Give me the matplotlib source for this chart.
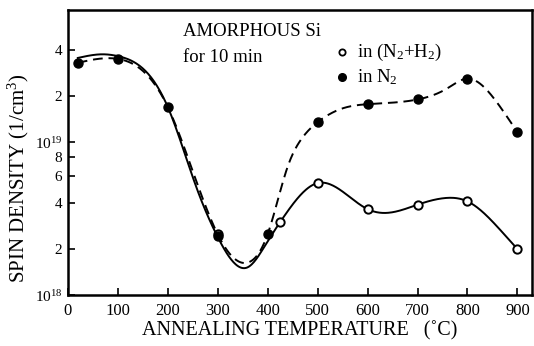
import matplotlib.pyplot as plt
import numpy as np
from matplotlib.ticker import FixedLocator, FixedFormatter, NullLocator

# measured points (temperature in C, spin density in 1/cm3)
temp_n2 = [20, 100, 200, 300, 400, 500, 600, 700, 800, 900]
spin_n2 = [3.3e19, 3.5e19, 1.7e19, 2.45e18, 2.5e18, 1.35e19, 1.77e19, 1.9e19, 2.6e19, 1.16e19]

temp_h2 = [300, 425, 500, 600, 700, 800, 900]
spin_h2 = [2.5e18, 3.0e18, 5.4e18, 3.65e18, 3.9e18, 4.1e18, 2.0e18]

# hand-drawn guide curves, knots
curve_n2_t = [20, 100, 200, 300, 362, 400, 440, 466, 500, 552, 600, 700, 760, 800, 860, 900]
curve_n2_v = [3.3e19, 3.5e19, 1.7e19, 2.5e18, 1.64e18, 2.5e18, 6.9e18, 1.03e19, 1.35e19,
              1.67e19, 1.77e19, 1.9e19, 2.25e19, 2.6e19, 1.8e19, 1.16e19]

curve_h2_t = [20, 70, 100, 200, 258, 300, 360, 400, 425, 500, 600, 640, 700, 752, 800, 866, 900]
curve_h2_v = [3.55e19, 3.75e19, 3.65e19, 1.7e19, 5.0e18, 2.4e18, 1.52e18, 2.25e18, 3.0e18,
              5.4e18, 3.65e18, 3.45e18, 3.9e18, 4.3e18, 4.1e18, 2.66e18, 2.0e18]


def natural_spline(xk, yk, xs):
    xk = np.asarray(xk, float)
    yk = np.asarray(yk, float)
    n = len(xk)
    h = np.diff(xk)
    A = np.zeros((n, n))
    b = np.zeros(n)
    A[0, 0] = A[-1, -1] = 1
    for i in range(1, n - 1):
        A[i, i - 1] = h[i - 1]
        A[i, i] = 2 * (h[i - 1] + h[i])
        A[i, i + 1] = h[i]
        b[i] = 3 * ((yk[i + 1] - yk[i]) / h[i] - (yk[i] - yk[i - 1]) / h[i - 1])
    c = np.linalg.solve(A, b)
    idx = np.clip(np.searchsorted(xk, xs) - 1, 0, n - 2)
    dx = xs - xk[idx]
    bb = (yk[idx + 1] - yk[idx]) / h[idx] - h[idx] * (2 * c[idx] + c[idx + 1]) / 3
    d = (c[idx + 1] - c[idx]) / (3 * h[idx])
    return yk[idx] + bb * dx + c[idx] * dx ** 2 + d * dx ** 3


plt.rcParams['font.family'] = ['Liberation Serif', 'DejaVu Serif']
plt.rcParams['mathtext.fontset'] = 'custom'
plt.rcParams['mathtext.rm'] = 'Liberation Serif'
plt.rcParams['mathtext.it'] = 'Liberation Serif:italic'
plt.rcParams['mathtext.bf'] = 'Liberation Serif:bold'

fig = plt.figure(figsize=(5.34, 3.46), dpi=100)
ax = fig.add_axes([0.127, 0.147, 0.870, 0.824])

xs = np.linspace(curve_n2_t[0], curve_n2_t[-1], 600)
ax.plot(xs, 10 ** natural_spline(curve_n2_t, np.log10(curve_n2_v), xs),
        color='black', lw=1.4, ls=(0, (5, 3)))
xs2 = np.linspace(curve_h2_t[0], curve_h2_t[-1], 600)
ax.plot(xs2, 10 ** natural_spline(curve_h2_t, np.log10(curve_h2_v), xs2),
        color='black', lw=1.4)

ax.plot(temp_h2, spin_h2, 'o', ms=6, mfc='white', mec='black', mew=1.4)
ax.plot(temp_n2, spin_n2, 'o', ms=6.5, color='black')

ax.set_yscale('log')
ax.set_xlim(0, 930)
ax.set_ylim(1e18, 7.3e19)

ax.set_xticks([0, 100, 200, 300, 400, 500, 600, 700, 800, 900])
ax.xaxis.set_minor_locator(NullLocator())
yt = [1e18, 2e18, 4e18, 6e18, 8e18, 1e19, 2e19, 4e19]
ytl = ['$10^{18}$', '2', '4', '6', '8', '$10^{19}$', '2', '4']
ax.yaxis.set_major_locator(FixedLocator(yt))
ax.yaxis.set_major_formatter(FixedFormatter(ytl))
ax.yaxis.set_minor_locator(NullLocator())
ax.tick_params(direction='in', length=5, width=1.2, labelsize=12, pad=4)
ax.tick_params(axis='x', pad=6)
ax.tick_params(axis='y', labelsize=11)

for s in ax.spines.values():
    s.set_linewidth(1.8)

ax.set_xlabel('ANNEALING TEMPERATURE   (˚C)', fontsize=14.5, labelpad=1)
ax.set_ylabel('SPIN DENSITY (1/cm$^3$)', fontsize=15)
ax.yaxis.set_label_coords(-0.08, 0.41)

ax.text(0.247, 0.923, 'AMORPHOUS Si', transform=ax.transAxes, fontsize=13.5, va='center')
ax.text(0.247, 0.835, 'for 10 min', transform=ax.transAxes, fontsize=13.5, va='center')
ax.text(0.622, 0.853, 'in (N$_2$+H$_2$)', transform=ax.transAxes, fontsize=13.5, va='center')
ax.text(0.622, 0.765, 'in N$_2$', transform=ax.transAxes, fontsize=13.5, va='center')
ax.plot([0.59], [0.853], 'o', ms=4.5, mfc='white', mec='black', mew=1.3, transform=ax.transAxes)
ax.plot([0.59], [0.765], 'o', ms=5.5, color='black', transform=ax.transAxes)

fig.savefig('out.png', dpi=100)
